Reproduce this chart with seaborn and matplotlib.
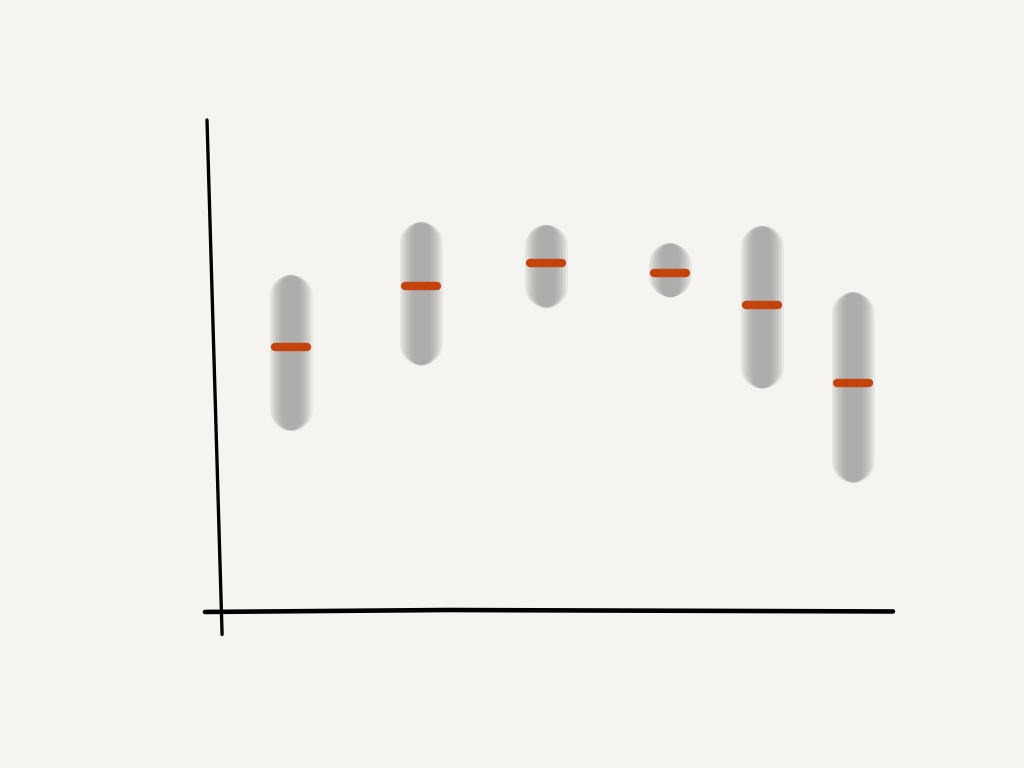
import seaborn as sns
import pandas as pd
import numpy as np
import matplotlib.pyplot as plt

# hand-drawn sketch: range bands (gray) with a mean mark (orange)
categories = ['A', 'B', 'C', 'D', 'E', 'F']
x_pos = [0.84, 2.14, 3.39, 4.63, 5.55, 6.46]
low = [3.67, 5.00, 6.18, 6.39, 4.53, 2.61]
high = [6.84, 7.92, 7.86, 7.49, 7.84, 6.49]
mean = [5.37, 6.61, 7.08, 6.88, 6.22, 4.63]

df = pd.DataFrame({'category': categories, 'x': x_pos, 'low': low, 'high': high, 'mean': mean})

BG = '#f5f4f1'
GRAY = '#969696'
ORANGE = '#c4420c'
PX_PER_Y = 49.0  # pixels per y unit

sns.set_style('white')
fig = plt.figure(figsize=(10.24, 7.68), dpi=100, facecolor=BG)
ax = fig.add_axes([207 / 1024, (768 - 610) / 768, 686 / 1024, 490 / 768])
ax.set_facecolor(BG)
ax.set_xlim(0, 6.86)
ax.set_ylim(0, 10)

# soft blurred bands: stacked translucent round-capped strokes
for lw in np.linspace(31, 12, 10):
    r = lw * 100 / 72 / 2 / PX_PER_Y
    ax.vlines(df['x'], df['low'] + r, df['high'] - r, color=GRAY, alpha=0.12,
              linewidth=lw, capstyle='round', zorder=1)

# mean marks
ax.hlines(df['mean'], df['x'] - 0.16, df['x'] + 0.16, color=ORANGE, linewidth=6,
          capstyle='round', zorder=3)

for s in ax.spines.values():
    s.set_visible(False)
ax.set_xticks([])
ax.set_yticks([])

# sketched axis lines
ax.plot([0.0, 0.022], [1.0, -0.05], transform=ax.transAxes, color='black',
        linewidth=2.4, solid_capstyle='round', clip_on=False)
ax.plot([-0.003, 0.35, 1.0], [-0.004, 0.0, -0.003], transform=ax.transAxes, color='black',
        linewidth=3.3, solid_capstyle='round', clip_on=False)

fig.savefig('out.png', dpi=100, facecolor=BG)
